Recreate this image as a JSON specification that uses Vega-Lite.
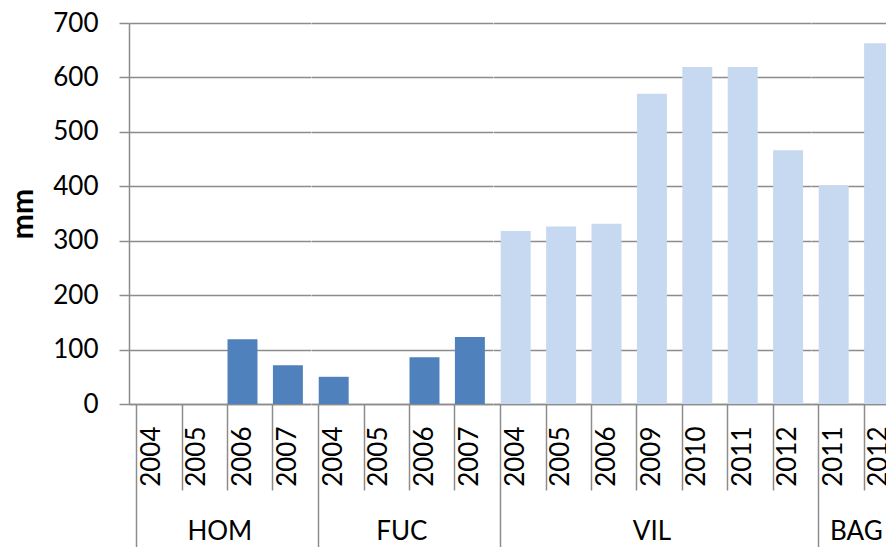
{
  "$schema": "https://vega.github.io/schema/vega-lite/v6.json",
  "background": "white",
  "padding": {"left": 8, "top": 10, "right": 0, "bottom": 0},
  "data": {"values": [
    {"site": "HOM", "year": 2004, "mm": 0},
    {"site": "HOM", "year": 2005, "mm": 0},
    {"site": "HOM", "year": 2006, "mm": 119},
    {"site": "HOM", "year": 2007, "mm": 71},
    {"site": "FUC", "year": 2004, "mm": 50},
    {"site": "FUC", "year": 2005, "mm": 0},
    {"site": "FUC", "year": 2006, "mm": 86},
    {"site": "FUC", "year": 2007, "mm": 123},
    {"site": "VIL", "year": 2004, "mm": 318},
    {"site": "VIL", "year": 2005, "mm": 326},
    {"site": "VIL", "year": 2006, "mm": 331},
    {"site": "VIL", "year": 2009, "mm": 570},
    {"site": "VIL", "year": 2010, "mm": 619},
    {"site": "VIL", "year": 2011, "mm": 619},
    {"site": "VIL", "year": 2012, "mm": 466},
    {"site": "BAG", "year": 2011, "mm": 402},
    {"site": "BAG", "year": 2012, "mm": 663}
  ]},
  "facet": {
    "column": {
      "field": "site",
      "type": "nominal",
      "sort": ["HOM", "FUC", "VIL", "BAG"],
      "header": {
        "title": null,
        "labelOrient": "bottom",
        "labelFont": "Lato",
        "labelFontSize": 26,
        "labelColor": "black",
        "labelPadding": -29
      }
    }
  },
  "spacing": 0,
  "resolve": {"scale": {"x": "independent"}},
  "spec": {
    "width": {"step": 45.4},
    "height": 381,
    "mark": {"type": "bar"},
    "encoding": {
      "x": {
        "field": "year",
        "type": "nominal",
        "sort": "ascending",
        "scale": {"paddingInner": 0.34, "paddingOuter": 0.17},
        "axis": {
          "title": null,
          "bandPosition": 0,
          "labelAngle": -90,
          "labelAlign": "right",
          "labelBaseline": "middle",
          "tickSize": {"condition": {"test": "datum.index === 0", "value": 143}, "value": 86},
          "labelPadding": {"condition": {"test": "datum.index === 0", "value": -121}, "value": -64},
          "grid": false
        }
      },
      "y": {
        "field": "mm",
        "type": "quantitative",
        "scale": {"domain": [0, 700], "nice": false},
        "axis": {
          "title": "mm",
          "values": [0, 100, 200, 300, 400, 500, 600, 700],
          "tickSize": 10,
          "labelPadding": 21,
          "titleFontWeight": "bold",
          "titleFontSize": 30,
          "titlePadding": 14
        }
      },
      "color": {
        "field": "site",
        "type": "nominal",
        "scale": {"domain": ["HOM", "FUC", "VIL", "BAG"], "range": ["#4F81BD", "#4F81BD", "#C6D9F1", "#C6D9F1"]},
        "legend": null
      }
    }
  },
  "config": {
    "view": {"stroke": null},
    "font": "Lato",
    "axis": {
      "labelFont": "Lato",
      "labelFontSize": 26,
      "labelColor": "black",
      "titleFont": "Lato",
      "titleColor": "black",
      "gridColor": "#8c8c8c",
      "gridWidth": 1.5,
      "gridOpacity": 1,
      "domainColor": "#8c8c8c",
      "domainWidth": 1.5,
      "tickColor": "#8c8c8c",
      "tickWidth": 1.5
    }
  }
}
